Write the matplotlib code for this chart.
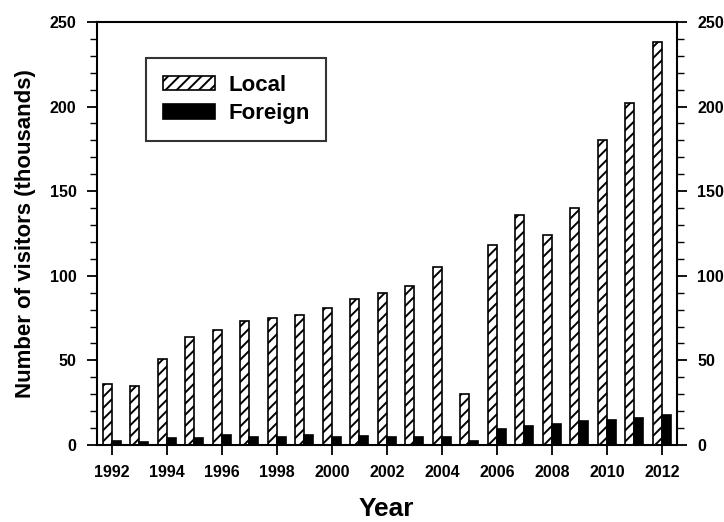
import numpy as np
import matplotlib
matplotlib.use('Agg')
import matplotlib.pyplot as plt
from matplotlib.ticker import MultipleLocator

years = list(range(1992, 2013))
local = [36, 35, 51, 64, 68, 73, 75, 77, 81, 86, 90, 94, 105, 30,
         118, 136, 124, 140, 180, 202, 238]
foreign = [2.5, 2, 4, 4, 6, 4.5, 5, 6, 5, 5.3, 5, 4.5, 5, 2.4,
           9.2, 11.2, 12.7, 13.9, 14.7, 16.1, 17.6]

plt.rcParams['font.family'] = 'Liberation Sans'
plt.rcParams['font.weight'] = 'bold'
plt.rcParams['hatch.linewidth'] = 1.4

fig = plt.figure(figsize=(7.24, 5.22), dpi=100)
ax = fig.add_axes([0.1336, 0.1475, 0.8014, 0.8105])

x = np.array(years)
w = 0.33
ax.bar(x - w / 2, local, width=w, color='white', edgecolor='black',
       hatch='///', linewidth=1.2, label='Local')
ax.bar(x + w / 2, foreign, width=w, color='black', edgecolor='black',
       linewidth=1.2, label='Foreign')

ax.set_xlim(1991.45, 2012.55)
ax.set_ylim(0, 250)
ax.set_xticks(range(1992, 2013, 2))
ax.yaxis.set_major_locator(MultipleLocator(50))
ax.yaxis.set_minor_locator(MultipleLocator(10))

ax.tick_params(axis='both', which='major', direction='out', length=7.5,
               width=1.3, labelsize=11.5, pad=7)
ax.tick_params(axis='y', which='both', right=True, labelright=True)
ax.tick_params(axis='y', which='minor', direction='out', length=5, width=1.0)
ax.tick_params(axis='x', which='major', top=False)

for s in ax.spines.values():
    s.set_linewidth(1.5)

ax.set_xlabel('Year', fontsize=19, fontweight='bold', labelpad=12)
ax.set_ylabel('Number of visitors (thousands)', fontsize=16,
              fontweight='bold', labelpad=10)

leg = ax.legend(loc='upper left', bbox_to_anchor=(0.085, 0.915),
                borderaxespad=0, fancybox=False, fontsize=16,
                handlelength=2.35, handleheight=0.6, borderpad=0.75,
                labelspacing=0.35, handletextpad=0.6)
leg.get_frame().set_edgecolor('black')
leg.get_frame().set_linewidth(1.5)
for t in leg.get_texts():
    t.set_fontweight('bold')

fig.savefig('out.png', dpi=100)
